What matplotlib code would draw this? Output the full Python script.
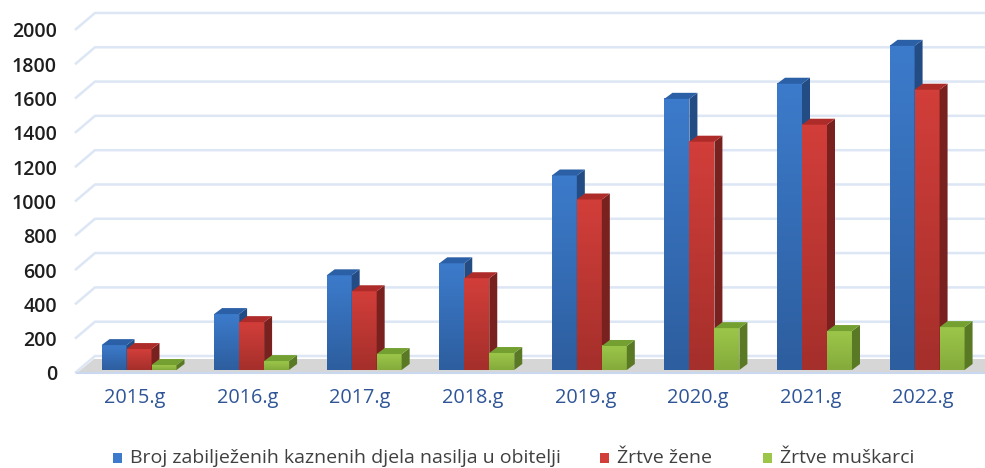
import numpy as np
import matplotlib.pyplot as plt
from matplotlib.patches import Polygon, Rectangle
from matplotlib.colors import LinearSegmentedColormap

plt.rcParams['font.family'] = ['Open Sans', 'DejaVu Sans']

years = ['2015.g', '2016.g', '2017.g', '2018.g', '2019.g', '2020.g', '2021.g', '2022.g']
kaznena_djela = [145, 326, 552, 622, 1134, 1581, 1669, 1890]
zrtve_zene = [122, 279, 459, 535, 994, 1331, 1430, 1634]
zrtve_muskarci = [29, 52, 93, 99, 140, 244, 227, 250]
series_names = ['Broj zabilježenih kaznenih djela nasilja u obitelji',
                'Žrtve žene', 'Žrtve muškarci']
y_ticks = list(range(0, 2001, 200))

# (front top, front bottom, side, top)
colors = [('#3c7bcb', '#2d5e9f', '#234c84', '#2b5fa6'),
          ('#d23e3a', '#a52f2b', '#78211f', '#ad2b28'),
          ('#9cc64a', '#84ab3b', '#5a7925', '#73a031')]

W, H = 985, 468
fig = plt.figure(figsize=(W / 100, H / 100), dpi=100)
ax = fig.add_axes([75/W, 95/H, 910/W, 365/H])
xmin, xmax = -0.533, 7.55
ymin, ymax = 0, 2128
ux = (xmax - xmin) / 910.0   # data units per pixel
uy = (ymax - ymin) / 365.0

# back wall grid lines with slanted left edge
gdx, gdy = 20 * ux, 17 * uy
for v in y_ticks:
    ax.plot([xmin, xmin + gdx, xmax], [v, v + gdy, v + gdy],
            color='#dce6f4', lw=1.8, zorder=1, clip_on=False, solid_capstyle='butt')

# floor
fdx, fdy = 17 * ux, 14 * uy
floor = Polygon([(xmin + 2 * ux, 0), (xmax, 0), (xmax, fdy), (xmin + 2 * ux + fdx, fdy)],
                closed=True, facecolor='#d6d6d6', edgecolor='none', zorder=2)
ax.add_patch(floor)
ax.plot([xmin + 2 * ux, xmax], [0, 0], color='#c9d8ee', lw=1.5, zorder=2.5, clip_on=False)

series = [kaznena_djela, zrtve_zene, zrtve_muskarci]
w = 0.222
bdx, bdy = 8 * ux, 6 * uy
ox, oy = 4 * ux, 3 * uy
for i in range(len(years)):
    for j, vals in enumerate(series):
        h = vals[i]
        x0 = i - 1.5 * w + j * w + ox
        y0 = oy
        z = 3 + j
        c_top, c_bot, c_side, c_cap = colors[j]
        cm = LinearSegmentedColormap.from_list('g', [c_bot, c_top])
        grad = np.linspace(0, 1, 64).reshape(-1, 1)
        ax.imshow(grad, extent=[x0, x0 + w, y0, y0 + h], cmap=cm, aspect='auto',
                  origin='lower', zorder=z, interpolation='bilinear')
        side = Polygon([(x0 + w, y0), (x0 + w + bdx, y0 + bdy),
                        (x0 + w + bdx, y0 + h + bdy), (x0 + w, y0 + h)],
                       closed=True, facecolor=c_side, edgecolor='none', zorder=z)
        top = Polygon([(x0, y0 + h), (x0 + w, y0 + h),
                       (x0 + w + bdx, y0 + h + bdy), (x0 + bdx, y0 + h + bdy)],
                      closed=True, facecolor=c_cap, edgecolor='none', zorder=z)
        ax.add_patch(side)
        ax.add_patch(top)

ax.set_xlim(xmin, xmax)
ax.set_ylim(ymin, ymax)
for s in ax.spines.values():
    s.set_visible(False)

ax.set_yticks(y_ticks)
ax.set_yticklabels([str(v) for v in y_ticks], fontsize=14, fontweight='semibold', color='#1e1e1e')
ax.tick_params(axis='y', length=0, pad=13)
ax.set_xticks(range(len(years)))
ax.set_xticklabels(years, fontsize=14.3, color='#2f5597')
ax.tick_params(axis='x', length=0, pad=11)

# legend, placed by hand to match the original spacing
leg_x = [113, 600, 763]
leg_y = 458
for name, c, lx in zip(series_names, colors, leg_x):
    fig.patches.append(Rectangle((lx / W, 1 - (leg_y + 5) / H), 9 / W, 10 / H,
                                 transform=fig.transFigure, facecolor=c[0], edgecolor='none'))
    fig.text((lx + 17) / W, 1 - leg_y / H, name, fontsize=14, color='#404040',
             va='center', ha='left')

fig.savefig('out.png', dpi=100)
